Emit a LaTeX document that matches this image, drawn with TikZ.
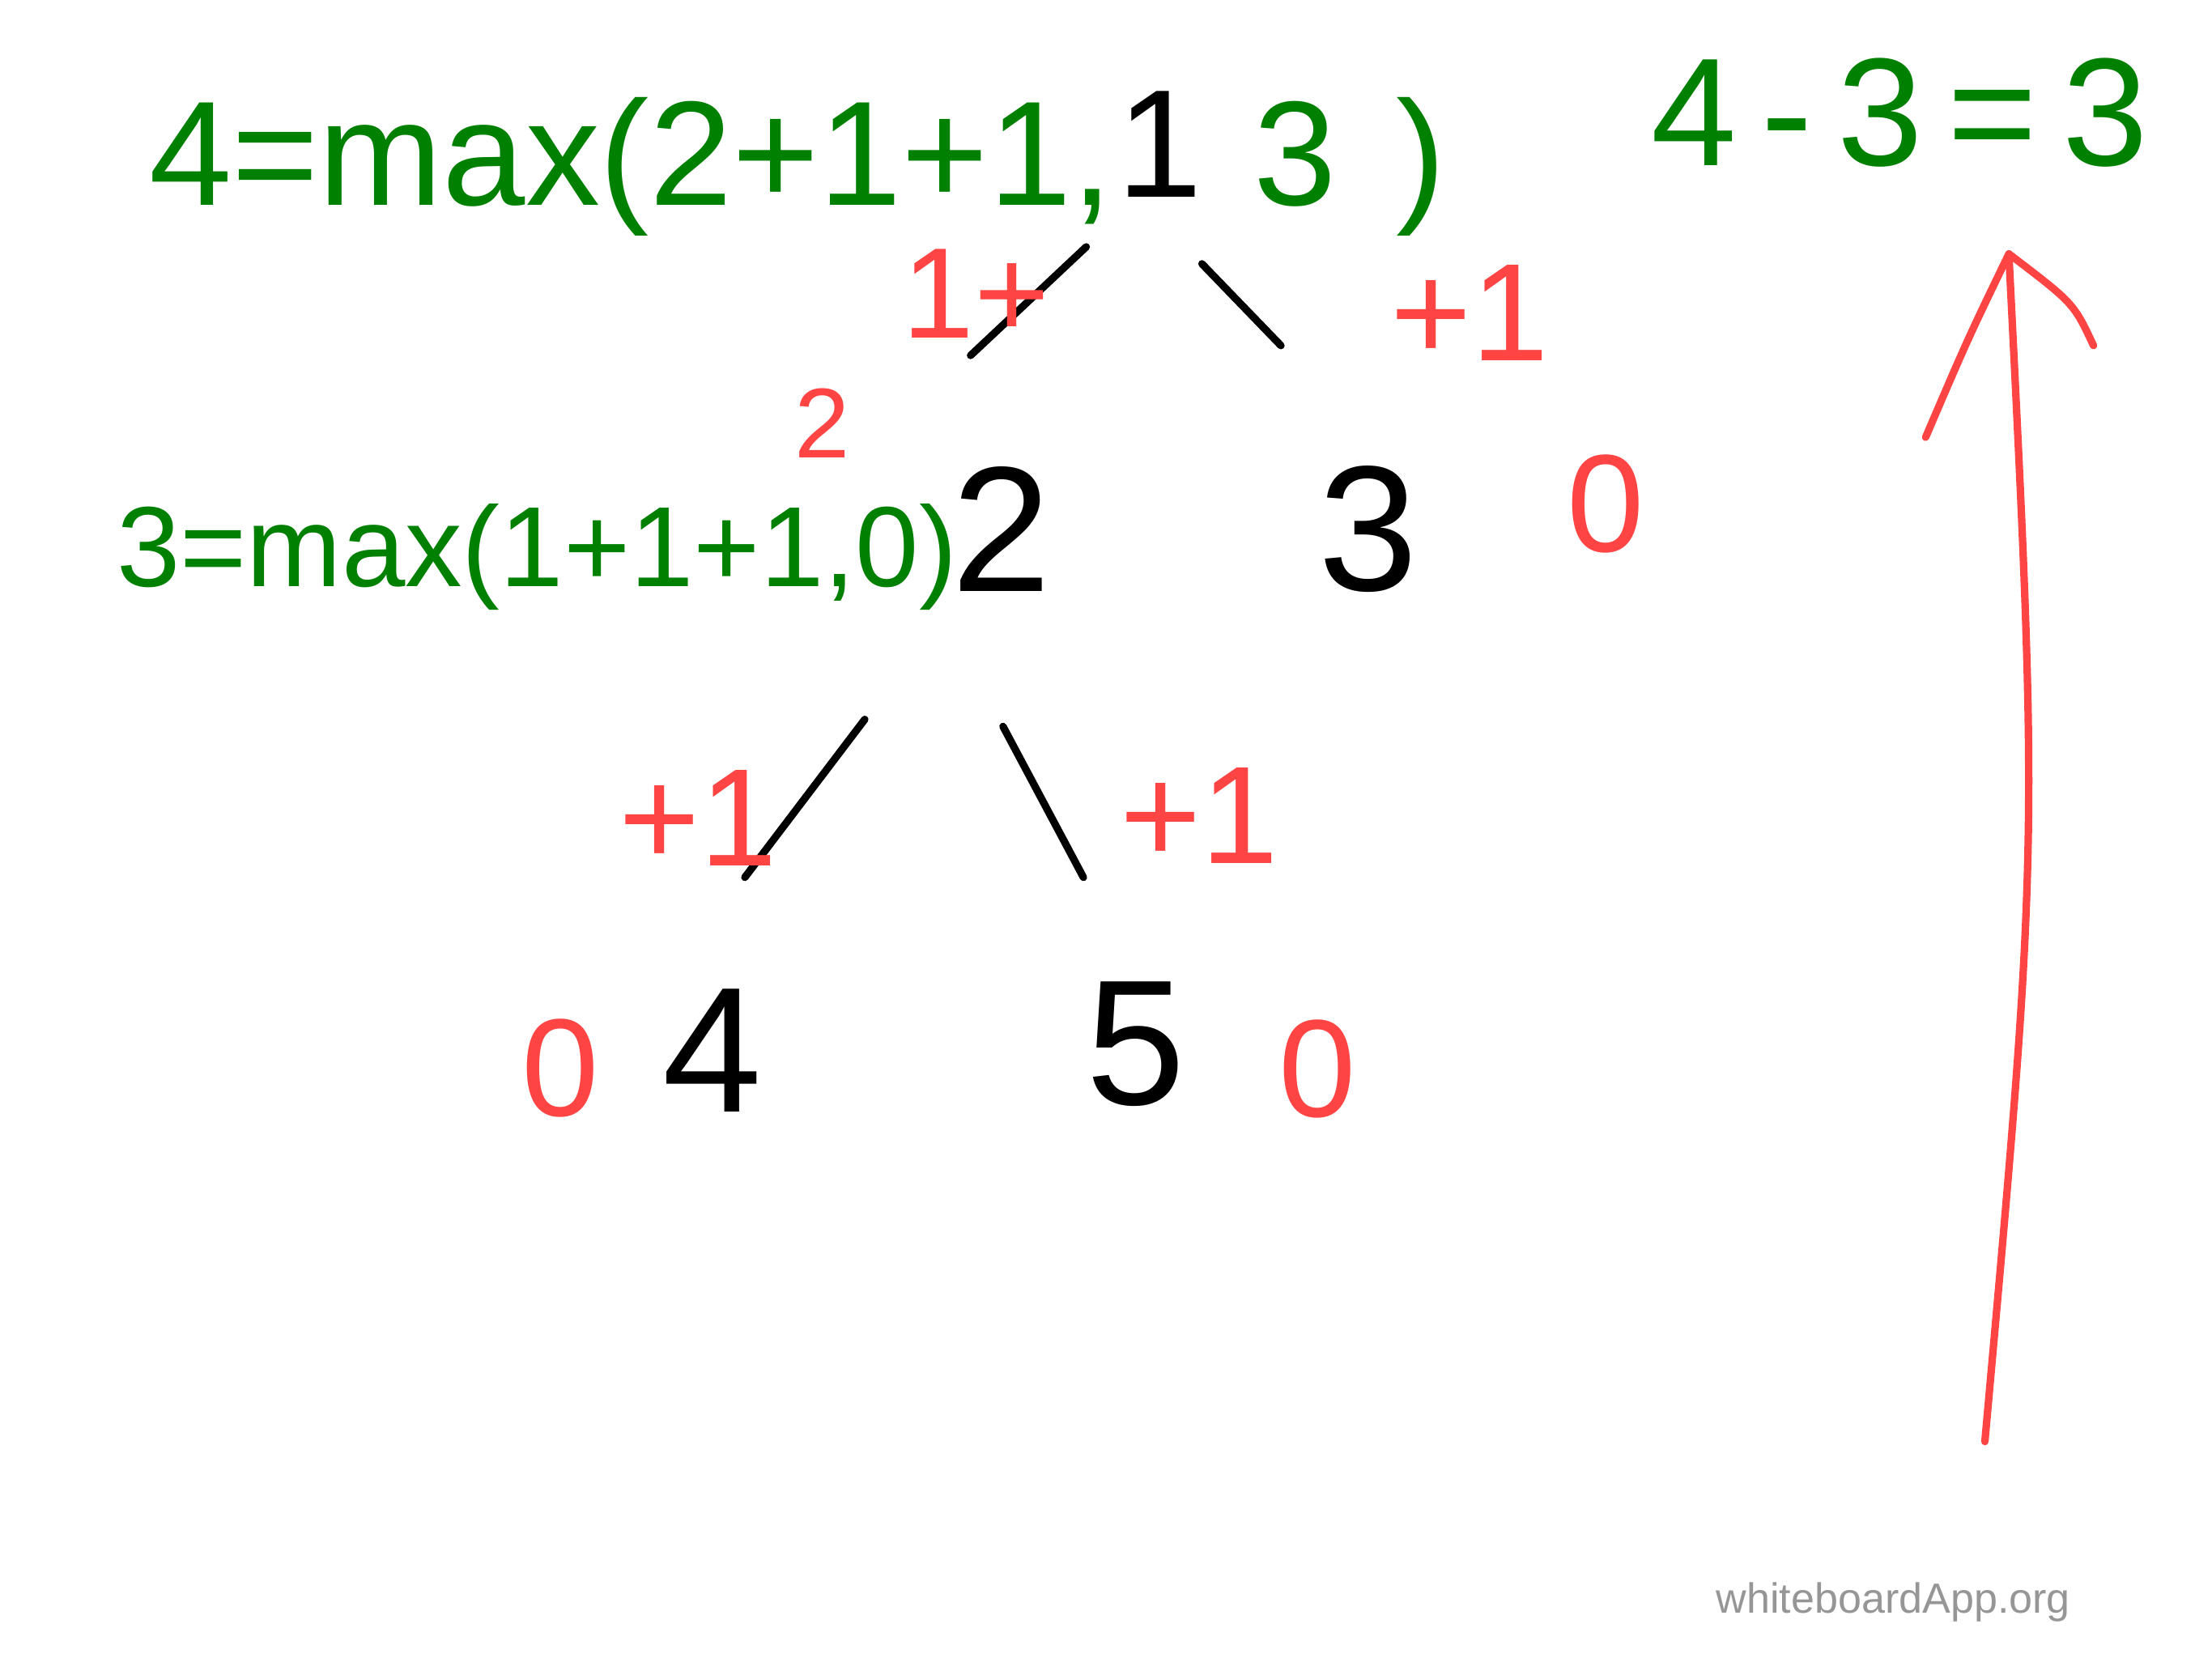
\documentclass[tikz,border=0pt]{standalone}
\usepackage{fontspec}
\setmainfont{Liberation Sans}
\definecolor{inkgreen}{RGB}{0,128,0}
\definecolor{inkred}{RGB}{255,68,68}
\definecolor{inkgray}{RGB}{150,150,150}
\begin{document}
\begin{tikzpicture}[x=0.01cm,y=-0.01cm,
  every node/.style={inner sep=0pt},
  tree/.style={font=\fontsize{36}{36}\selectfont},
  cost/.style={text=inkred,font=\fontsize{28}{28}\selectfont},
  calc/.style={text=inkgreen,anchor=west},
  branch/.style={line width=1.5pt,line cap=round}]
  \useasboundingbox (0,0) rectangle (1568,1175);
  % tree nodes
  \node[tree,font=\fontsize{31}{31}\selectfont] (root) at (822,102) {1};
  \node[tree] (n2) at (710,375) {2};
  \node[tree] (n3) at (970,375) {3};
  \node[tree] (n4) at (505,745) {4};
  \node[tree] (n5) at (805,740) {5};
  \draw[branch] ([shift={(-52,73)}]root.center) -- ([shift={(-22,-123)}]n2.center);
  \draw[branch] ([shift={(30,85)}]root.center) -- ([shift={(-62,-130)}]n3.center);
  \draw[branch] ([shift={(-97,135)}]n2.center) -- ([shift={(23,-123)}]n4.center);
  \draw[branch] ([shift={(1,140)}]n2.center) -- ([shift={(-37,-118)}]n5.center);
  % red depths and edge costs
  \node[cost,font=\fontsize{26}{26}\selectfont] (c2) at (692,208) {1+};
  \node[cost] (c3) at (1042,222) {+1};
  \node[cost] (c4) at (495,580) {+1};
  \node[cost] (c5) at (850,578) {+1};
  \node[cost,font=\fontsize{20}{20}\selectfont] (d2) at (583,300) {2};
  \node[cost] (d3) at (1138,357) {0};
  \node[cost] (d4) at (397,757) {0};
  \node[cost] (d5) at (934,758) {0};
  % green working
  \node[calc,font=\fontsize{30}{30}\selectfont] (f1) at (105,118) {4=max(2+1+1,};
  \node[calc,font=\fontsize{30}{30}\selectfont] (f1b) at (888,118) {3\hspace{12pt})};
  \node[calc,font=\fontsize{23}{23}\selectfont] (f2) at (82,395) {3=max(1+1+1,0)};
  \node[calc,font=\fontsize{31}{31}\selectfont] (f3) at (1170,80) {4\hspace{5pt}-\hspace{5pt}3\hspace{5pt}=\hspace{5pt}3};
  % arrow up
  \coordinate (up0) at (1407,1022);
  \coordinate (up1) at (1424,180);
  \draw[inkred,line width=1.5pt,line cap=round] (up0) .. controls (1445,600) .. (up1);
  \draw[inkred,line width=1.5pt,line cap=round] (up1) .. controls (1395,240) .. (1365,310);
  \draw[inkred,line width=1.5pt,line cap=round] (up1) .. controls (1470,215) .. (1484,245);
  \node[text=inkgray,font=\fontsize{8.5}{8.5}\selectfont] (mark) at (1342,1136) {whiteboardApp.org};
\end{tikzpicture}
\end{document}
